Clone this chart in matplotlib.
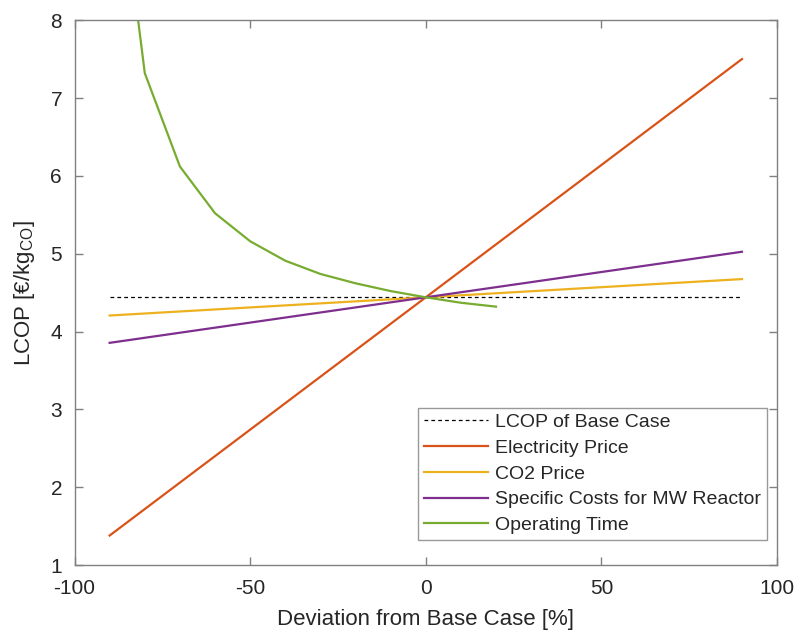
"""
LCOP sensitivity chart
"""

import matplotlib.pyplot as plt

plt.rcParams['font.family'] = ['Liberation Sans', 'DejaVu Sans']
plt.rcParams['mathtext.fontset'] = 'custom'
plt.rcParams['mathtext.rm'] = 'Liberation Sans'
plt.rcParams['mathtext.it'] = 'Liberation Sans'
plt.rcParams['axes.unicode_minus'] = False

# deviation steps in percent
dev = [-90, -80, -70, -60, -50, -40, -30, -20, -10, 0,
       10, 20, 30, 40, 50, 60, 70, 80, 90]

base_x = [-90, 90]
base_lcop = [4.44, 4.44]

electricity = [1.38, 1.72, 2.06, 2.40, 2.74, 3.08, 3.42, 3.76, 4.10, 4.44,
               4.78, 5.12, 5.46, 5.80, 6.14, 6.48, 6.82, 7.16, 7.50]
co2 = [4.206, 4.232, 4.258, 4.284, 4.310, 4.336, 4.362, 4.388, 4.414, 4.440,
       4.466, 4.492, 4.518, 4.544, 4.570, 4.596, 4.622, 4.648, 4.674]
reactor = [3.855, 3.920, 3.985, 4.050, 4.115, 4.180, 4.245, 4.310, 4.375, 4.440,
           4.505, 4.570, 4.635, 4.700, 4.765, 4.830, 4.895, 4.960, 5.025]

op_dev = [-90, -80, -70, -60, -50, -40, -30, -20, -10, 0, 10, 20]
op_time = [10.92, 7.32, 6.12, 5.52, 5.16, 4.91, 4.74, 4.62, 4.52, 4.44, 4.37, 4.32]

labels = ["LCOP of Base Case", "Electricity Price", "CO2 Price",
          "Specific Costs for MW Reactor", "Operating Time"]

fig = plt.figure(figsize=(7.97, 6.30), dpi=100)
ax = fig.add_axes([0.0935, 0.103, 0.8815, 0.865])

ax.plot(base_x, base_lcop, '--', color='black', lw=0.9, dashes=(3, 2.5), label=labels[0])
ax.plot(dev, electricity, color='#D95319', lw=1.6, label=labels[1])
ax.plot(dev, co2, color='#EDB120', lw=1.6, label=labels[2])
ax.plot(dev, reactor, color='#7E2F8E', lw=1.6, label=labels[3])
ax.plot(op_dev, op_time, color='#77AC30', lw=1.6, label=labels[4])

ax.set_xlim(-100, 100)
ax.set_ylim(1, 8)
ax.set_xticks([-100, -50, 0, 50, 100])
ax.set_yticks(range(1, 9))

for s in ax.spines.values():
    s.set_color('#808080')
    s.set_linewidth(1.0)
ax.tick_params(direction='in', top=True, right=True, length=6, width=1,
               color='#808080', labelcolor='#262626', labelsize=15)
ax.tick_params(axis='x', pad=10)
ax.tick_params(axis='y', pad=9)

ax.set_xlabel("Deviation from Base Case [%]", fontsize=16, color='#262626', labelpad=8)
ax.set_ylabel(r"LCOP [€/kg$_{\mathrm{CO}}$]", fontsize=16, color='#262626', labelpad=10)

leg = ax.legend(loc='lower right', bbox_to_anchor=(0.9858, 0.046), borderaxespad=0,
                fontsize=14, frameon=True, fancybox=False, handlelength=3.3,
                labelspacing=0.42, borderpad=0.3, handletextpad=0.35)
leg.get_frame().set_edgecolor('#808080')
leg.get_frame().set_linewidth(1.0)
for t in leg.get_texts():
    t.set_color('#262626')

fig.savefig("out.png", dpi=100)
